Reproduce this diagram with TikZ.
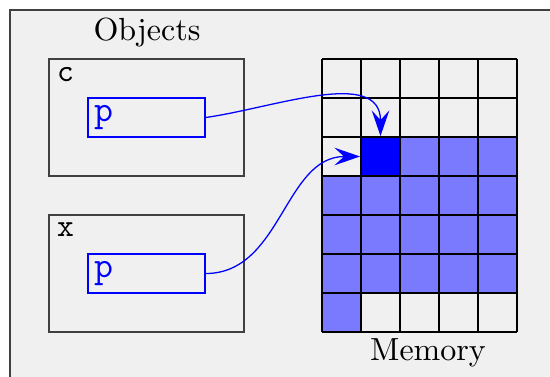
\documentclass[tikz,border=0pt]{standalone}
\usepackage{xcolor}
\usepackage{tikz}
\usetikzlibrary{arrows.meta,positioning}

\begin{document}
\begin{tikzpicture}[
        x=0.3125pt, y=-0.3125pt,
        frame/.style={draw=black!75, fill=black!6, line width=0.6pt},
        object/.style={rectangle, draw=black!75, line width=0.6pt, minimum width=60.9pt, minimum height=36.6pt, inner sep=0pt},
        varname/.style={font=\ttfamily, anchor=north west, inner sep=2.6pt},
        pbox/.style={rectangle, draw=blue, text=blue, font=\ttfamily\fontsize{11.5}{14}\selectfont, line width=0.4pt, text width=32.6pt, align=left, minimum height=12.2pt, inner sep=2pt},
        cell/.style={rectangle, draw=black, line width=0.6pt, minimum size=12.19pt, inner sep=0pt},
        used/.style={fill=blue!52},
        ptr/.style={draw=blue, line width=0.4pt, -{Stealth[length=8pt, width=5.5pt, inset=3pt]}},
        caption/.style={font=\normalsize}
    ]
    \useasboundingbox (0,0) rectangle (550,377);
    \path [frame] (10,10) rectangle (553,380);

    % objects
    \node [caption] (objlabel) at (147,33) {Objects};
    \node [object] (c) at (146.5,117.5) {};
    \node [varname] at (c.north west) {c};
    \node [pbox] (cp) at (146.5,117.5) {p};
    \node [object] (x) at (146.5,273.5) {};
    \node [varname] at (x.north west) {x};
    \node [pbox] (xp) at (146.5,273.5) {p};

    % memory
    \fill [used] (400,137) -- (517,137) -- (517,293) -- (361,293) -- (361,332)
        -- (322,332) -- (322,176) -- (400,176) -- cycle;
    \foreach \i in {0,...,5}
        \draw [line width=0.6pt] (322+39*\i,59) -- (322+39*\i,332);
    \foreach \j in {0,...,7}
        \draw [line width=0.6pt] (322,59+39*\j) -- (517,59+39*\j);
    \node [cell, fill=blue] (target) at (380.5,156.5) {};
    \node [caption] (memlabel) at (428,353) {Memory};

    \path [ptr] (cp.east) to[out=8, in=90] (target.north);
    \path [ptr] (xp.east) to[out=0, in=180] (target.west);
\end{tikzpicture}
\end{document}
